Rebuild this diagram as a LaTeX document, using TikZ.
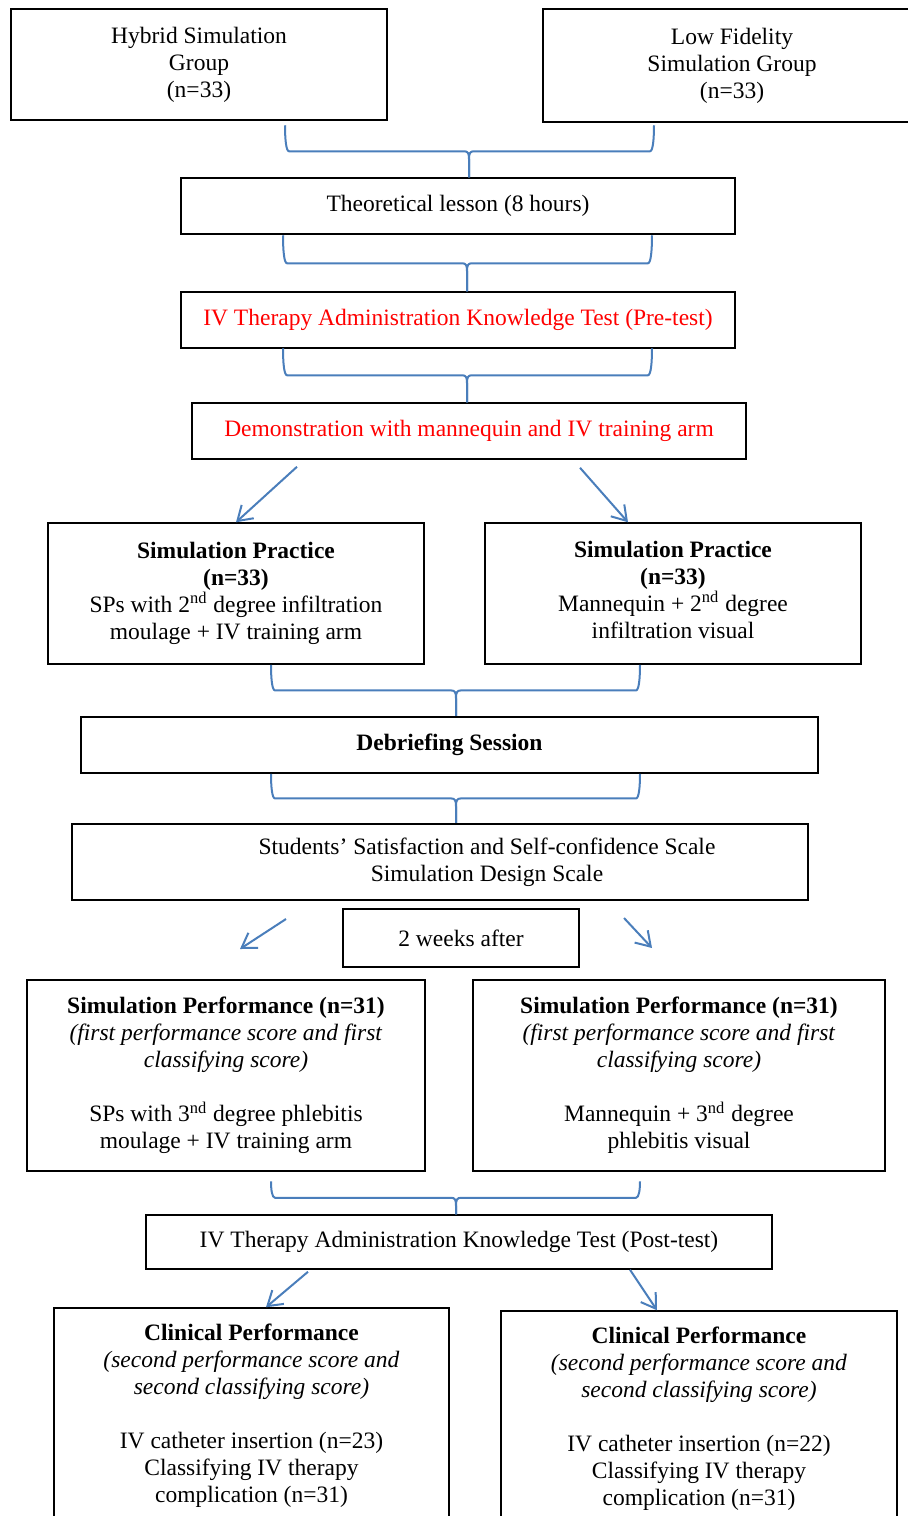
\documentclass[tikz,border=0pt]{standalone}
\usepackage{fontspec}
\setmainfont{Liberation Serif}
\usetikzlibrary{arrows.meta}
\definecolor{linkblue}{HTML}{4A7EBB}
\newcommand{\joinbrace}[4]{%
	\draw[link] (#1) -- ++(0,{8-#4}) .. controls +(0,-6) and +(4,0) .. ++(-5,-8) -- ++({9-#2},0) .. controls +(-3,0) and +(0,{0.5*#4}) .. ++(-4,{-#4});
	\draw[link] (#1) -- ++(0,{8-#4}) .. controls +(0,-6) and +(-4,0) .. ++(5,-8) -- ++({#3-9},0) .. controls +(3,0) and +(0,{0.5*#4}) .. ++(4,{-#4});
}

\begin{document}
\begin{tikzpicture}[x=0.5pt,y=-0.5pt,
	bodytext/.style={align=center, inner sep=0pt, font=\fontsize{11.75pt}{13.5pt}\selectfont},
	stagebox/.style={bodytext, draw, line width=0.75pt},
	heavybox/.style={stagebox, line width=1.1pt},
	link/.style={draw=linkblue, line width=1pt},
	linkarrow/.style={link, -{Straight Barb[length=7pt,width=9pt]}}]
		\useasboundingbox (0,0) rectangle (908,1516);
		\node[stagebox, minimum width=188pt, minimum height=55.5pt] (hybrid) at (199,64.5) {Hybrid Simulation\\Group\\(n=33)};
		\node[stagebox, minimum width=189pt, minimum height=56.5pt] (lowfid) at (732,65.5) {Low Fidelity\\Simulation Group\\(n=33)};
		\node[stagebox, minimum width=277pt, minimum height=28pt] (theory) at (458,206) {Theoretical lesson (8 hours)};
		\node[stagebox, minimum width=277pt, minimum height=28pt, text=red] (pretest) at (458,320) {IV Therapy Administration Knowledge Test (Pre-test)};
		\node[stagebox, minimum width=277pt, minimum height=28pt, text=red] (demo) at (469,431) {Demonstration with mannequin and IV training arm};
		\node[stagebox, minimum width=188pt, minimum height=70.5pt] (practiceL) at (236,593.5) {\textbf{Simulation Practice}\\\textbf{(n=33)}\\SPs with 2\textsuperscript{nd} degree infiltration\\moulage + IV training arm};
		\node[stagebox, minimum width=188pt, minimum height=70.5pt] (practiceR) at (673,593.5) {\textbf{Simulation Practice}\\\textbf{(n=33)}\\Mannequin + 2\textsuperscript{nd} degree\\infiltration visual\strut};
		\node[heavybox, minimum width=368.5pt, minimum height=28pt] (debrief) at (449.5,745) {\textbf{Debriefing Session}};
		\node[heavybox, minimum width=368pt, minimum height=38pt] (scales) at (440,862) {};
		\node[bodytext] (scalestext) at (487,862) {Students’ Satisfaction and Self-confidence Scale\\Simulation Design Scale};
		\node[stagebox, minimum width=118pt, minimum height=29pt] (weeks) at (461,938) {2 weeks after};
		\node[stagebox, minimum width=199pt, minimum height=95.5pt] (performL) at (226,1075.5) {\textbf{Simulation Performance (n=31)}\\\textit{(first performance score and first}\\\textit{classifying score)}\\[13.5pt]SPs with 3\textsuperscript{nd} degree phlebitis\\moulage + IV training arm};
		\node[stagebox, minimum width=206pt, minimum height=95.5pt] (performR) at (679,1075.5) {\textbf{Simulation Performance (n=31)}\\\textit{(first performance score and first}\\\textit{classifying score)}\\[13.5pt]Mannequin + 3\textsuperscript{nd} degree\\phlebitis visual};
		\node[stagebox, minimum width=313pt, minimum height=27pt] (posttest) at (459,1242) {IV Therapy Administration Knowledge Test (Post-test)};
		\node[stagebox, minimum width=197.5pt, minimum height=108pt] (clinicL) at (251.5,1416) {\textbf{Clinical Performance}\\\textit{(second performance score and}\\\textit{second classifying score)}\\[13.5pt]IV catheter insertion (n=23)\\Classifying IV therapy\\complication (n=31)};
		\node[stagebox, minimum width=198pt, minimum height=108pt] (clinicR) at (699,1419) {\textbf{Clinical Performance}\\\textit{(second performance score and}\\\textit{second classifying score)}\\[13.5pt]IV catheter insertion (n=22)\\Classifying IV therapy\\complication (n=31)};
		\coordinate (waitLfrom) at (286,919);
		\coordinate (waitLto) at (240,949);
		\coordinate (waitRfrom) at (624,918);
		\coordinate (waitRto) at (652,948);
		\joinbrace{[xshift=5.5pt]theory.north}{184}{185}{26}
		\joinbrace{[xshift=4.5pt]pretest.north}{184}{185}{28}
		\joinbrace{[xshift=-1pt]demo.north}{184}{185}{27}
		\joinbrace{[xshift=3.25pt]debrief.north}{185}{184}{25.5}
		\joinbrace{[xshift=8pt]scales.north}{185}{184}{24.5}
		\joinbrace{[xshift=-1.5pt]posttest.north}{185}{184}{16.5}
		\draw[linkarrow] ([xshift=-86pt,yshift=-3.5pt]demo.south) -- (practiceL.north);
		\draw[linkarrow] ([xshift=55.5pt,yshift=-4pt]demo.south) -- ([xshift=-22.5pt]practiceR.north);
		\draw[linkarrow] (waitLfrom) -- (waitLto);
		\draw[linkarrow] (waitRfrom) -- (waitRto);
		\draw[linkarrow] ([xshift=-75.5pt,yshift=-1pt]posttest.south) -- ([xshift=7.25pt]clinicL.north);
		\draw[linkarrow] ([xshift=85.5pt]posttest.south) -- ([xshift=-21pt]clinicR.north);
\end{tikzpicture}
\end{document}
